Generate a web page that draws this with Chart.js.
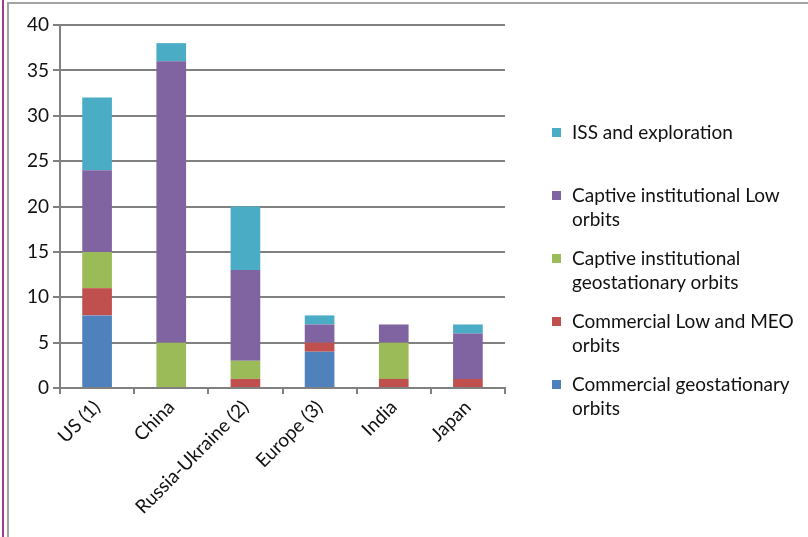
<!DOCTYPE html>
<html>
<head>
<meta charset="utf-8">
<script src="https://cdn.jsdelivr.net/npm/chart.js@4/dist/chart.umd.min.js"></script>
<style>
  html, body { margin: 0; padding: 0; background: #fff; overflow: hidden; }
  #wrap { position: relative; width: 808px; height: 537px; }
  #edge { position: absolute; left: 2px; top: 0; width: 2px; height: 537px; background: #9c3f8f; }
  #frame { position: absolute; left: 7px; top: 2px; width: 900px; height: 700px; border: 2px solid #a3a3a3; }
  #legend { position: absolute; left: 552px; top: 120px; font-family: Lato, sans-serif; font-size: 19px; color: #111; }
  #legend .item { position: relative; height: 63px; padding-left: 20px; line-height: 24px; white-space: nowrap; }
  #legend .box { position: absolute; left: 0; top: 8px; width: 9px; height: 9px; }
</style>
</head>
<body>
<div id="wrap">
  <div id="edge"></div>
  <div id="frame"></div>
  <canvas id="c" width="808" height="537"></canvas>
  <div id="legend"></div>
</div>
<script>
  // categories and series (stacked from bottom to top)
  var countries = ['US (1)', 'China', 'Russia-Ukraine (2)', 'Europe (3)', 'India', 'Japan']
  var commercialGeo = [8, 0, 0, 4, 0, 0]
  var commercialLow = [3, 0, 1, 1, 1, 1]
  var captiveGeo = [4, 5, 2, 0, 4, 0]
  var captiveLow = [9, 31, 10, 2, 2, 5]
  var issExploration = [8, 2, 7, 1, 0, 1]
  var yTicks = [0, 5, 10, 15, 20, 25, 30, 35, 40]

  var series = [
    { label: ['Commercial geostationary', 'orbits'], data: commercialGeo, color: '#4f81bd' },
    { label: ['Commercial Low and MEO', 'orbits'], data: commercialLow, color: '#c0504d' },
    { label: ['Captive institutional', 'geostationary orbits'], data: captiveGeo, color: '#9bbb59' },
    { label: ['Captive institutional Low', 'orbits'], data: captiveLow, color: '#8064a2' },
    { label: ['ISS and exploration'], data: issExploration, color: '#4bacc6' }
  ]

  Chart.defaults.font.family = 'Lato, sans-serif'
  Chart.defaults.font.size = 19
  Chart.defaults.color = '#111'

  var chart = new Chart(document.getElementById('c'), {
    type: 'bar',
    data: {
      labels: countries,
      datasets: series.map(function (s) {
        return {
          label: s.label.join(' '),
          data: s.data,
          backgroundColor: s.color,
          barPercentage: 0.4,
          categoryPercentage: 1
        }
      })
    },
    options: {
      responsive: false,
      animation: false,
      layout: { padding: { left: 10, top: 25, right: 303, bottom: 0 } },
      plugins: { legend: { display: false }, tooltip: { enabled: false } },
      scales: {
        x: {
          stacked: true,
          grid: { drawOnChartArea: false, drawTicks: true, tickLength: 6, color: '#808080', lineWidth: 2 },
          border: { color: '#808080', width: 2 },
          ticks: { minRotation: 45, maxRotation: 45, padding: 2, font: { size: 19 } },
          afterFit: function (s) { s.height = 149 }
        },
        y: {
          stacked: true,
          min: 0,
          max: 40,
          afterBuildTicks: function (s) { s.ticks = yTicks.map(function (v) { return { value: v } }) },
          grid: { color: '#808080', lineWidth: 2, tickLength: 7 },
          border: { color: '#808080', width: 2 },
          ticks: { padding: 4 },
          afterFit: function (s) { s.width = 50 }
        }
      }
    }
  })

  // legend on the right, top item = top of the stack
  var legend = document.getElementById('legend')
  series.slice().reverse().forEach(function (s) {
    var item = document.createElement('div')
    item.className = 'item'
    var box = document.createElement('span')
    box.className = 'box'
    box.style.background = s.color
    item.appendChild(box)
    s.label.forEach(function (line, i) {
      if (i > 0) item.appendChild(document.createElement('br'))
      item.appendChild(document.createTextNode(line))
    })
    legend.appendChild(item)
  })
</script>
</body>
</html>
